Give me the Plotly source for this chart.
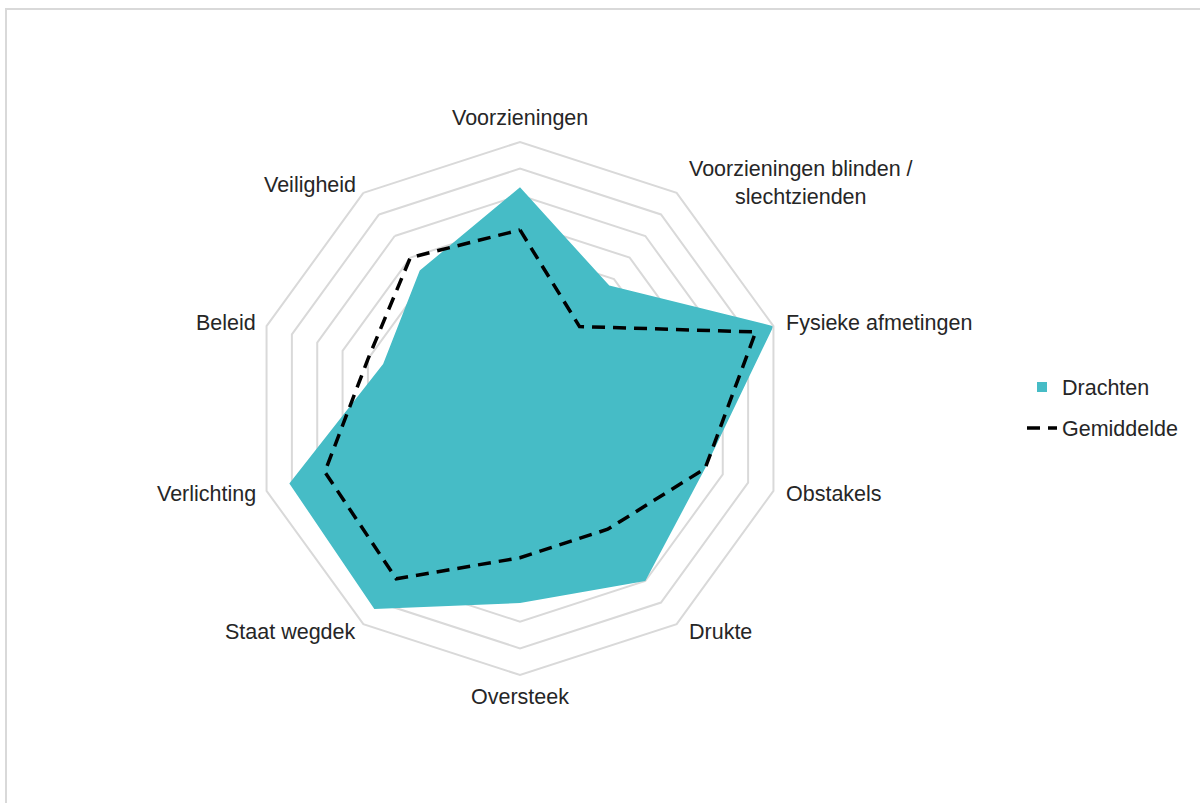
import numpy as np
import plotly.graph_objects as go

# Categories around the radar (clockwise from top)
categories = [
    "Voorzieningen",
    "Voorzieningen blinden /<br>slechtzienden",
    "Fysieke afmetingen",
    "Obstakels",
    "Drukte",
    "Oversteek",
    "Staat wegdek",
    "Verlichting",
    "Beleid",
    "Veiligheid",
]

# Scores per category
drachten = [8.3, 5.7, 10.0, 7.3, 8.0, 7.3, 9.3, 9.1, 5.4, 6.4]
gemiddelde = [6.7, 3.8, 9.3, 7.3, 5.6, 5.6, 7.9, 7.7, 6.0, 7.0]

TEAL = "#46BCC6"
GRID = "#D9D9D9"
TEXT = "#262626"
FONT = "Liberation Sans, Arial, sans-serif"
FONT_SIZE = 21.5

W, H = 1200, 803
CX, CY, R = 520.0, 408.5, 266.5  # polar centre and outer radius in pixels


def closed(values):
    return values + values[:1]


fig = go.Figure()

# Filled area for Drachten (legend entry drawn separately as a square)
fig.add_trace(go.Scatterpolar(
    r=closed(drachten),
    theta=closed(categories),
    mode="lines",
    fill="toself",
    fillcolor=TEAL,
    line=dict(color=TEAL, width=0),
    name="Drachten",
    showlegend=False,
    hoverinfo="skip",
))

# Legend marker for Drachten
fig.add_trace(go.Scatterpolar(
    r=[None],
    theta=[categories[0]],
    mode="markers",
    marker=dict(symbol="square", color=TEAL, size=10),
    name="Drachten",
    legendgroup="a",
    showlegend=True,
))

# Dashed outline for the average
fig.add_trace(go.Scatterpolar(
    r=closed(gemiddelde),
    theta=closed(categories),
    mode="lines",
    line=dict(color="black", width=3.5, dash="13px,8px"),
    name="Gemiddelde",
    legendgroup="b",
))

# Category labels placed just outside the outer polygon
annotations = []
n = len(categories)
for i, label in enumerate(categories):
    ang = 2 * np.pi * i / n
    sx, cy = np.sin(ang), np.cos(ang)
    vx = CX + R * sx
    vy = CY - R * cy
    if abs(sx) < 1e-6:
        xa = "center"
        px = vx
        py = vy - 24 if cy > 0 else vy + 22
    else:
        py = vy - 10 * cy
        if sx > 0:
            xa = "left"
            px = vx + 10.5
        else:
            xa = "right"
            px = vx - 8.5 * abs(sx)
    if "<br>" in label:
        py = vy - 10
    annotations.append(dict(
        x=px / W, y=1 - py / H, xref="paper", yref="paper",
        text=label, showarrow=False, xanchor=xa, yanchor="middle",
        align="center",
        font=dict(family=FONT, size=FONT_SIZE, color=TEXT),
    ))

fig.update_layout(
    width=W,
    height=H,
    margin=dict(l=0, r=0, t=0, b=0),
    paper_bgcolor="white",
    plot_bgcolor="white",
    font=dict(family=FONT, size=FONT_SIZE, color=TEXT),
    polar=dict(
        domain=dict(x=[(CX - R) / W, (CX + R) / W], y=[1 - (CY + R) / H, 1 - (CY - R) / H]),
        bgcolor="white",
        gridshape="linear",
        radialaxis=dict(
            range=[0, 10],
            dtick=1,
            showticklabels=False,
            ticks="",
            showline=False,
            gridcolor=GRID,
            gridwidth=1.5,
        ),
        angularaxis=dict(
            rotation=90,
            direction="clockwise",
            showgrid=False,
            showline=True,
            linecolor=GRID,
            linewidth=2,
            ticks="",
            showticklabels=False,
        ),
    ),
    legend=dict(
        x=1022 / W,
        y=1 - 407.5 / H,
        xanchor="left",
        yanchor="middle",
        font=dict(family=FONT, size=FONT_SIZE, color=TEXT),
        tracegroupgap=10,
        itemwidth=30,
        bgcolor="rgba(0,0,0,0)",
    ),
    annotations=annotations,
    shapes=[
        dict(
            type="rect", xref="paper", yref="paper",
            x0=6 / W, x1=1.01, y0=-0.01, y1=1 - 9 / H,
            line=dict(color=GRID, width=2), fillcolor="rgba(0,0,0,0)",
            layer="below",
        )
    ],
)

fig.write_html("out.html")
